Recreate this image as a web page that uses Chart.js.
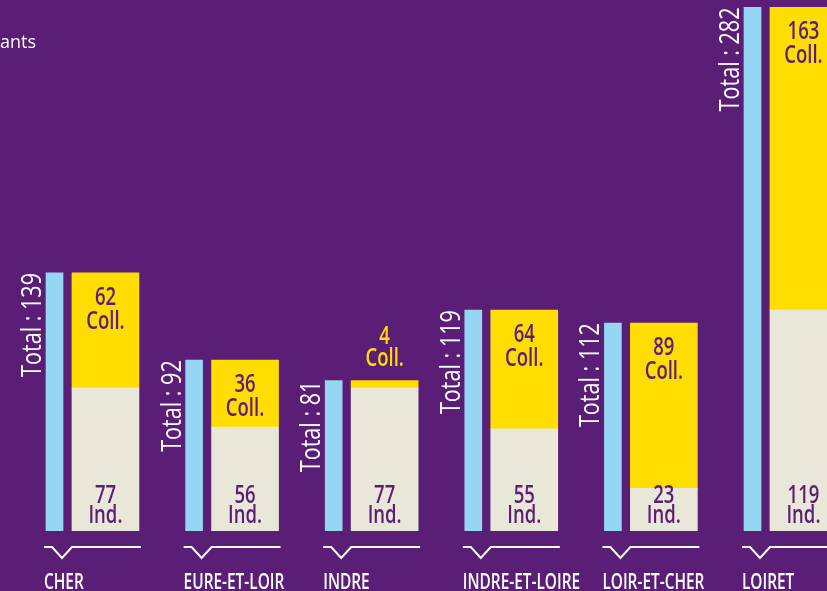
<!DOCTYPE html>
<html lang="fr">
<head>
<meta charset="utf-8">
<title>Logements par département</title>
<script src="https://cdn.jsdelivr.net/npm/chart.js"></script>
<style>
    html, body { margin: 0; padding: 0; background: #5b1e76; overflow: hidden; }
    #wrap { width: 827px; height: 591px; position: relative; }
</style>
</head>
<body>
<div id="wrap"><canvas id="chart"></canvas></div>
<script>
// Départements and counts
const categories = ['CHER', 'EURE-ET-LOIR', 'INDRE', 'INDRE-ET-LOIRE', 'LOIR-ET-CHER', 'LOIRET'];
const totals = [139, 92, 81, 119, 112, 282];
const individuels = [77, 56, 77, 55, 23, 119];
const collectifs = [62, 36, 4, 64, 89, 163];

const PURPLE = '#5b1e76';
const BLUE = '#94d6f4';
const YELLOW = '#ffdd00';
const BEIGE = '#e9e7d7';
const FONT = '"Open Sans", "DejaVu Sans", sans-serif';

// the stacked bar sits a little to the right of the total bar
const STACK_SHIFT = 0.365;

document.addEventListener('DOMContentLoaded', () => {
    const ctx = document.getElementById('chart').getContext('2d');

    const totalPoints = totals.map((v, i) => ({ x: i, y: v }));
    const indPoints = individuels.map((v, i) => ({ x: i + STACK_SHIFT, y: v }));
    const collPoints = collectifs.map((v, i) => ({ x: i + STACK_SHIFT, y: v }));

    // draw text squeezed horizontally, the source font is a condensed one
    function text(c, str, x, y, font, sx, color, align, rotate) {
        c.save();
        c.translate(x, y);
        if (rotate) c.rotate(-Math.PI / 2);
        c.scale(sx, 1);
        c.font = `${font} ${FONT}`;
        c.fillStyle = color;
        c.textAlign = align;
        c.textBaseline = 'alphabetic';
        c.fillText(str, 0, 0);
        c.restore();
    }

    const labelsPlugin = {
        id: 'labels',
        afterDatasetsDraw(chart) {
            const c = chart.ctx;
            const totalBars = chart.getDatasetMeta(0).data;
            const indBars = chart.getDatasetMeta(1).data;
            const collBars = chart.getDatasetMeta(2).data;
            const valueFont = '600 25px';

            categories.forEach((name, i) => {
                const t = totalBars[i];
                const ind = indBars[i];
                const coll = collBars[i];
                const tLeft = t.x - t.width / 2;
                const sRight = ind.x + ind.width / 2;

                // rotated total on the left of the blue bar
                text(c, `Total : ${totals[i]}`, tLeft - 5, t.y, '27px', 0.8, '#ffffff', 'right', true);

                // individuels, bottom of the beige part
                text(c, String(individuels[i]), ind.x, ind.base - 28, valueFont, 0.74, PURPLE, 'center');
                text(c, 'Ind.', ind.x, ind.base - 8, valueFont, 0.74, PURPLE, 'center');

                // collectifs, inside the yellow part or above it when too thin
                if (coll.base - coll.y > 50) {
                    text(c, String(collectifs[i]), coll.x, coll.y + 32, valueFont, 0.74, PURPLE, 'center');
                    text(c, 'Coll.', coll.x, coll.y + 56, valueFont, 0.74, PURPLE, 'center');
                } else {
                    text(c, String(collectifs[i]), coll.x, coll.y - 37, valueFont, 0.74, YELLOW, 'center');
                    text(c, 'Coll.', coll.x, coll.y - 15, valueFont, 0.74, YELLOW, 'center');
                }

                // bracket under each group
                const bx = tLeft - 2;
                const by = ind.base + 16;
                const notch = bx + 18;
                c.beginPath();
                c.moveTo(bx, by);
                c.lineTo(notch - 10, by);
                c.lineTo(notch, by + 11);
                c.lineTo(notch + 10, by);
                c.lineTo(sRight + 2, by);
                c.strokeStyle = '#ffffff';
                c.lineWidth = 2;
                c.lineJoin = 'miter';
                c.stroke();

                // département name
                text(c, name, bx, ind.base + 58, '600 22px', 0.7, '#ffffff', 'left');
            });

            // legend text at the top left
            text(c, 'ants', 0, 48, '18px', 1, '#ffffff', 'left');
        }
    };

    const pitch = 139.6;
    const xMin = -54.5 / pitch;

    new Chart(ctx, {
        type: 'bar',
        data: {
            datasets: [
                {
                    label: 'Total',
                    data: totalPoints,
                    backgroundColor: BLUE,
                    barThickness: 17,
                    grouped: false,
                    stack: 'total'
                },
                {
                    label: 'Ind.',
                    data: indPoints,
                    backgroundColor: BEIGE,
                    barThickness: 67,
                    grouped: false,
                    stack: 'parts'
                },
                {
                    label: 'Coll.',
                    data: collPoints,
                    backgroundColor: YELLOW,
                    barThickness: 67,
                    grouped: false,
                    stack: 'parts'
                }
            ]
        },
        options: {
            responsive: true,
            maintainAspectRatio: false,
            animation: false,
            layout: { padding: { left: 0, right: 0, top: 0, bottom: 60 } },
            scales: {
                x: {
                    type: 'linear',
                    min: xMin,
                    max: xMin + 827 / pitch,
                    offset: false,
                    display: false
                },
                y: {
                    stacked: true,
                    min: 0,
                    max: 286,
                    display: false
                }
            },
            plugins: {
                legend: { display: false },
                tooltip: { enabled: false }
            }
        },
        plugins: [labelsPlugin]
    });
});
</script>
</body>
</html>
